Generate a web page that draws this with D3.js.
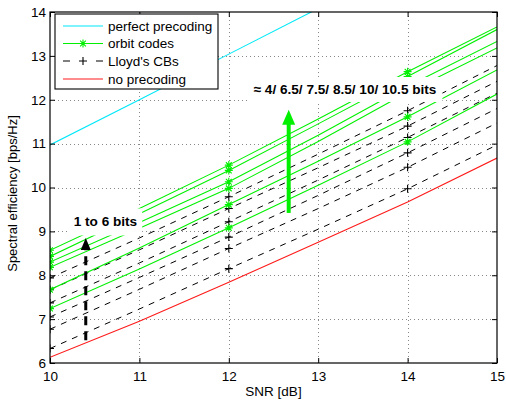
<!DOCTYPE html>
<html><head><meta charset="utf-8">
<script src="https://cdn.jsdelivr.net/npm/d3@7/dist/d3.min.js"></script>
<style>
body{margin:0;background:#fff;}
text{font-family:"Liberation Sans",Arial,sans-serif;}
</style></head>
<body><svg id="c" width="506" height="401"></svg>
<script>
// ---- data ----
const snr = [10, 11, 12, 13, 14, 15];
const markerSNR = [10, 12, 14];
const xTicks = [10, 11, 12, 13, 14, 15];
const yTicks = [6, 7, 8, 9, 10, 11, 12, 13, 14];

const perfectPrecoding = [10.97, 12.0, 13.04, 14.08];
const noPrecoding = [6.13, 6.95, 7.84, 8.75, 9.67, 10.67];

const orbit1 = [8.57, 9.52, 10.51, 11.56, 12.64, 13.66];
const orbit2 = [8.43, 9.40, 10.39, 11.45, 12.53, 13.60];
const orbit3 = [8.30, 9.20, 10.13, 11.19, 12.31, 13.33];
const orbit4 = [8.18, 9.07, 9.98, 11.05, 12.17, 13.18];
const orbit5 = [7.67, 8.62, 9.61, 10.60, 11.61, 12.68];
const orbit6 = [7.24, 8.14, 9.08, 10.05, 11.04, 12.13];

const lloyd1 = [7.94, 8.85, 9.79, 10.76, 11.75, 12.78];
const lloyd2 = [7.67, 8.58, 9.52, 10.45, 11.40, 12.42];
const lloyd3 = [7.37, 8.28, 9.22, 10.17, 11.14, 12.15];
const lloyd4 = [7.05, 7.95, 8.87, 9.82, 10.79, 11.80];
const lloyd5 = [6.77, 7.68, 8.61, 9.52, 10.46, 11.47];
const lloyd6 = [6.33, 7.23, 8.15, 9.05, 9.97, 10.97];

const legendLabels = ["perfect precoding", "orbit codes", "Lloyd's CBs", "no precoding"];
const labelLloyd = "1 to 6 bits";
const labelOrbit = "\u2248 4/ 6.5/ 7.5/ 8.5/ 10/ 10.5 bits";
const xTitle = "SNR [dB]";
const yTitle = "Spectral efficiency [bps/Hz]";

// ---- drawing ----
const svg = d3.select("#c");
const L = 50, R = 497, T = 12, B = 363;
const x = d3.scaleLinear().domain([10, 15]).range([L, R]);
const y = d3.scaleLinear().domain([6, 14]).range([B, T]);

const GREEN = "#00f000", CYAN = "#00e8f8", RED = "#ff1a1a";

svg.append("defs").append("clipPath").attr("id", "clip")
  .append("rect").attr("x", L).attr("y", T).attr("width", R - L).attr("height", B - T);

// grid
const grid = svg.append("g").attr("stroke", "#888").attr("stroke-width", 1).attr("stroke-dasharray", "1,3");
grid.selectAll(".gx").data(xTicks.slice(1, -1)).enter().append("line")
  .attr("x1", d => Math.round(x(d)) + 0.5).attr("x2", d => Math.round(x(d)) + 0.5)
  .attr("y1", T).attr("y2", B);
grid.selectAll(".gy").data(yTicks.slice(1, -1)).enter().append("line")
  .attr("y1", d => Math.round(y(d)) + 0.5).attr("y2", d => Math.round(y(d)) + 0.5)
  .attr("x1", L).attr("x2", R);

const line = d3.line().x((d, i) => x(snr[i])).y(d => y(d));
const plot = svg.append("g").attr("clip-path", "url(#clip)").attr("fill", "none");

plot.append("path").attr("d", line(perfectPrecoding)).attr("stroke", CYAN).attr("stroke-width", 1.1);
plot.append("path").attr("d", line(noPrecoding)).attr("stroke", RED).attr("stroke-width", 1.1);

const lloyds = [lloyd1, lloyd2, lloyd3, lloyd4, lloyd5, lloyd6];
const orbits = [orbit1, orbit2, orbit3, orbit4, orbit5, orbit6];

lloyds.forEach(s => {
  plot.append("path").attr("d", line(s)).attr("stroke", "#000").attr("stroke-width", 1)
    .attr("stroke-dasharray", "6,6");
});
orbits.forEach(s => {
  plot.append("path").attr("d", line(s)).attr("stroke", GREEN).attr("stroke-width", 1.1);
});

function plusMark(g, cx, cy, r, col) {
  g.append("path").attr("d", `M${cx - r},${cy}H${cx + r}M${cx},${cy - r}V${cy + r}`)
    .attr("stroke", col).attr("stroke-width", 1.1).attr("fill", "none");
}
function starMark(g, cx, cy, r, col) {
  const k = r * 0.72;
  g.append("path").attr("d",
    `M${cx - r},${cy}H${cx + r}M${cx},${cy - r}V${cy + r}M${cx - k},${cy - k}L${cx + k},${cy + k}M${cx - k},${cy + k}L${cx + k},${cy - k}`)
    .attr("stroke", col).attr("stroke-width", 1.1).attr("fill", "none");
}
const marks = svg.append("g").attr("clip-path", "url(#clip)");
lloyds.forEach(s => markerSNR.forEach(m => {
  const i = snr.indexOf(m);
  plusMark(marks, x(m), y(s[i]), 4, "#000");
}));
orbits.forEach(s => markerSNR.forEach(m => {
  const i = snr.indexOf(m);
  starMark(marks, x(m), y(s[i]), 4, GREEN);
}));

// text labels with white background
function boxedLabel(txt, sx, sy, padX, padY) {
  const g = svg.append("g");
  const rect = g.append("rect").attr("fill", "#fff");
  const t = g.append("text").attr("x", x(sx)).attr("y", y(sy)).attr("dy", "0.35em")
    .attr("text-anchor", "middle").attr("font-size", 13.6).attr("font-weight", "bold").text(txt);
  const bb = t.node().getBBox();
  rect.attr("x", bb.x - padX).attr("y", bb.y - padY).attr("width", bb.width + 2 * padX).attr("height", bb.height + 2 * padY);
}
boxedLabel(labelLloyd, 10.62, 9.22, 5, 6);
boxedLabel(labelOrbit, 13.3, 12.24, 6, 5);

// arrows
function arrow(sx, y0, y1, col, w, dash, hw, hl) {
  const X = x(sx), Y0 = y(y0), Y1 = y(y1);
  svg.append("line").attr("x1", X).attr("x2", X).attr("y1", Y0).attr("y2", Y1 + hl - 1)
    .attr("stroke", col).attr("stroke-width", w).attr("stroke-dasharray", dash);
  svg.append("path").attr("d", `M${X},${Y1}L${X - hw},${Y1 + hl}L${X + hw},${Y1 + hl}Z`).attr("fill", col);
}
arrow(10.4, 6.52, 8.85, "#000", 3, "9,6", 5, 12);
arrow(12.67, 9.42, 11.77, GREEN, 4, null, 6.5, 15);

// axes
const fs = 13.5;
const gB = svg.append("g").attr("transform", `translate(0,${B})`)
  .call(d3.axisBottom(x).tickValues(xTicks).tickSizeInner(-5).tickSizeOuter(0).tickPadding(8).tickFormat(d3.format("d")));
const gL = svg.append("g").attr("transform", `translate(${L},0)`)
  .call(d3.axisLeft(y).tickValues(yTicks).tickSizeInner(-5).tickSizeOuter(0).tickPadding(4).tickFormat(d3.format("d")));
const gT = svg.append("g").attr("transform", `translate(0,${T})`)
  .call(d3.axisTop(x).tickValues(xTicks).tickSizeInner(-5).tickSizeOuter(0).tickFormat(""));
const gR = svg.append("g").attr("transform", `translate(${R},0)`)
  .call(d3.axisRight(y).tickValues(yTicks).tickSizeInner(-5).tickSizeOuter(0).tickFormat(""));
[gB, gL, gT, gR].forEach(g => {
  g.select(".domain").remove();
  g.selectAll("line").attr("stroke", "#000");
  g.selectAll("text").attr("font-size", fs).attr("fill", "#000")
    .attr("font-family", "'Liberation Sans',Arial,sans-serif");
});
svg.append("rect").attr("x", L).attr("y", T).attr("width", R - L).attr("height", B - T)
  .attr("fill", "none").attr("stroke", "#000").attr("stroke-width", 1.2);

svg.append("text").attr("x", (L + R) / 2).attr("y", 396).attr("text-anchor", "middle")
  .attr("font-size", fs).text(xTitle);
svg.append("text").attr("transform", `translate(17,${(T + B) / 2 + 6}) rotate(-90)`)
  .attr("text-anchor", "middle").attr("font-size", 13).text(yTitle);

// legend
const lg = svg.append("g");
lg.append("rect").attr("x", 55).attr("y", 14).attr("width", 163).attr("height", 75)
  .attr("fill", "#fff").attr("stroke", "#000").attr("stroke-width", 1.1);
const rows = [26, 43.5, 61, 79];
const lx0 = 63, lx1 = 103, lxm = 83;
lg.append("line").attr("x1", lx0).attr("x2", lx1).attr("y1", rows[0]).attr("y2", rows[0]).attr("stroke", CYAN).attr("stroke-width", 1.1);
lg.append("line").attr("x1", lx0).attr("x2", lx1).attr("y1", rows[1]).attr("y2", rows[1]).attr("stroke", GREEN).attr("stroke-width", 1.1);
starMark(lg, lxm, rows[1], 4, GREEN);
lg.append("line").attr("x1", lx0).attr("x2", lx1).attr("y1", rows[2]).attr("y2", rows[2]).attr("stroke", "#000")
  .attr("stroke-width", 1).attr("stroke-dasharray", "7,26,7");
plusMark(lg, lxm, rows[2], 4, "#000");
lg.append("line").attr("x1", lx0).attr("x2", lx1).attr("y1", rows[3]).attr("y2", rows[3]).attr("stroke", RED).attr("stroke-width", 1.1);
legendLabels.forEach((t, i) => {
  lg.append("text").attr("x", 108).attr("y", rows[i]).attr("dy", "0.35em").attr("font-size", fs).text(t);
});
</script></body></html>
